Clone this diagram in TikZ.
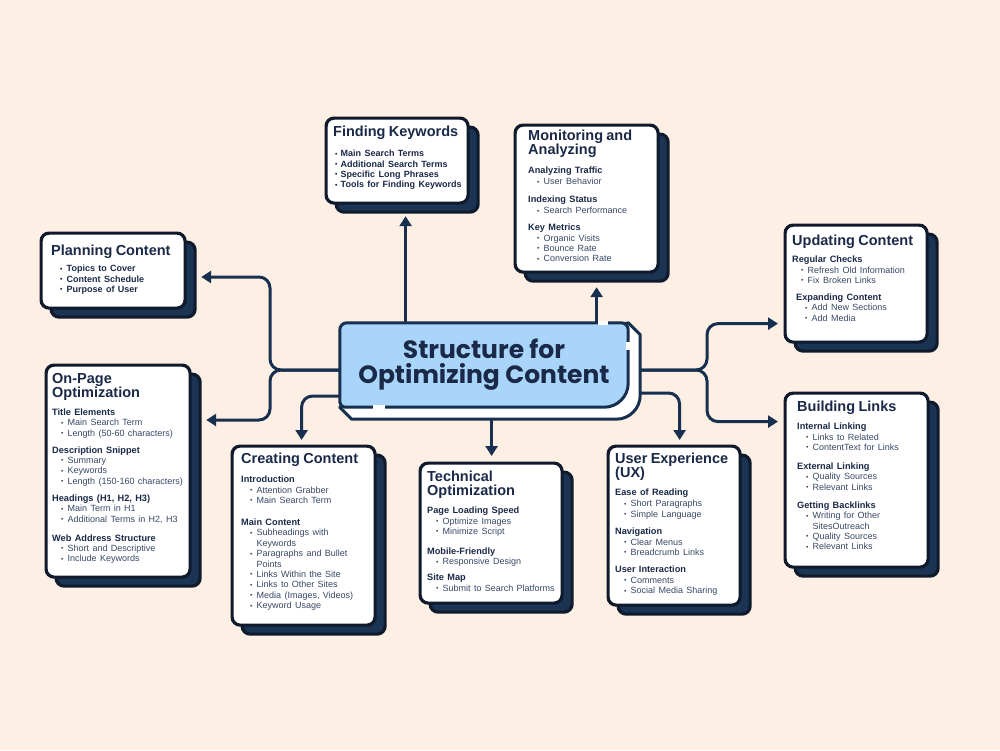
\documentclass[tikz,border=0pt]{standalone}
\usepackage{fontspec}
\setmainfont{Liberation Sans}
\newfontfamily\corefont{Poppins}
\usetikzlibrary{arrows.meta,shadows}
\pgfdeclarelayer{bglayer}
\pgfdeclarelayer{wirelayer}
\pgfdeclarelayer{corelayer}
\pgfsetlayers{bglayer,wirelayer,corelayer,main}

\definecolor{paper}{HTML}{FDEFE3}
\definecolor{ink}{HTML}{1A2947}
\definecolor{inksoft}{HTML}{384866}
\definecolor{wire}{HTML}{17304F}
\definecolor{edge}{HTML}{0F1B2D}
\definecolor{shade}{HTML}{1C3454}
\definecolor{corefill}{HTML}{A9D5FB}

\newlength{\bulin}\setlength{\bulin}{9pt}
\newlength{\txtin}\setlength{\txtin}{15.5pt}
\newcommand{\itemweight}{}
\newcommand{\dotmark}{\raisebox{0.6pt}{\scalebox{0.75}{\textbullet}}}
\newcommand{\ctitle}[1]{{\noindent\fontsize{14.5}{14}\selectfont\bfseries\color{ink}#1\par}}
\newcommand{\csec}[2][18pt]{{\noindent\fontsize{9.2}{#1}\selectfont\bfseries\color{ink}#2\par}}
\newcommand{\citem}[2][10.4pt]{{\noindent\fontsize{9}{#1}\selectfont\color{inksoft}\itemweight
  \hangindent=\txtin\hangafter=1\hbox to \txtin{\hspace{\bulin}\dotmark\hss}#2\par}}

\begin{document}
\begin{tikzpicture}[x=1pt,y=-1pt,
  card/.style={draw=edge, line width=3.2pt, fill=white, rounded corners=8pt,
    anchor=north west, inner sep=0pt,
    general shadow={fill=shade, draw=edge, line width=3.2pt, shadow xshift=10pt, shadow yshift=-9pt}},
  cardtext/.style={anchor=north west, inner sep=0pt, text width=150pt, align=left},
  link/.style={draw=wire, line width=3pt, rounded corners=11pt, -{Triangle[width=12pt,length=10pt]}},
  coretext/.style={minimum width=288pt, minimum height=84pt, inner sep=0pt, align=center,
    font=\corefont\bfseries\fontsize{25}{25}\selectfont, text=ink}]

\begin{pgfonlayer}{bglayer}
  \fill[paper] (0,0) rectangle (1000,750);
\end{pgfonlayer}
\useasboundingbox (0,0) rectangle (1000,750);

\node[coretext] (core) at (484,365) {Structure for\\Optimizing Content};
\begin{pgfonlayer}{corelayer}
  \filldraw[fill=white, draw=wire, line width=3pt, line join=round]
    (core.north east) -- ++(12,12) [rounded corners=24pt] -- ([shift={(12,12)}]core.south east)
    [sharp corners] -- ([shift={(12,12)}]core.south west) -- (core.south west) -- cycle;
  \filldraw[fill=corefill, draw=wire, line width=3pt]
    (core.south west) [rounded corners=7pt] -- (core.north west) -- (core.north east)
    [rounded corners=24pt] -- (core.south east) [rounded corners=5pt] -- cycle;
  \draw[white, line width=3.6pt] ([shift={(-30,0)}]core.north east) -- ([shift={(-20,0)}]core.north east);
  \draw[white, line width=3.6pt] ([shift={(0,19)}]core.north east) -- ([shift={(0,27)}]core.north east);
  \draw[white, line width=3.6pt] ([shift={(33,0)}]core.south west) -- ([shift={(45,0)}]core.south west);
\end{pgfonlayer}

\node[card, minimum width=144pt, minimum height=75pt] (plan) at (39.5,231.5) {};
\node[card, minimum width=144pt, minimum height=212pt] (page) at (44.5,363.5) {};
\node[card, minimum width=142pt, minimum height=85pt] (keys) at (324.5,116.5) {};
\node[card, minimum width=143pt, minimum height=147pt] (mon) at (513.5,123.5) {};
\node[card, minimum width=142pt, minimum height=117pt] (upd) at (783.5,223.5) {};
\node[card, minimum width=143pt, minimum height=174pt] (links) at (783.5,391.5) {};
\node[card, minimum width=143pt, minimum height=179pt] (create) at (230.5,444.5) {};
\node[card, minimum width=142pt, minimum height=140pt] (tech) at (418.5,461.5) {};
\node[card, minimum width=132pt, minimum height=159pt] (ux) at (606.5,444.5) {};

\node[cardtext] (plantext) at ([shift={(11.5,13.5)}]plan.north west)
  {\renewcommand{\itemweight}{\bfseries\color{ink}}%
   \ctitle{Planning Content}\citem[16pt]{Topics to Cover}\citem{Content Schedule}\citem{Purpose of User}};
\node[cardtext] (pagetext) at ([shift={(7.5,9.5)}]page.north west)
  {\ctitle{On-Page\newline Optimization}
   \csec{Title Elements}\citem{Main Search Term}\citem{Length (50-60 characters)}
   \csec[17pt]{Description Snippet}\citem{Summary}\citem{Keywords}\citem{Length (150-160 characters)}
   \csec[17pt]{Headings (H1, H2, H3)}\citem{Main Term in H1}\citem{Additional Terms in H2, H3}
   \csec[19pt]{Web Address Structure}\citem{Short and Descriptive}\citem{Include Keywords}};
\node[cardtext] (keystext) at ([shift={(8.5,9.5)}]keys.north west)
  {\renewcommand{\itemweight}{\bfseries\color{ink}}\setlength{\bulin}{2pt}\setlength{\txtin}{7.5pt}%
   \ctitle{Finding Keywords}\citem[20pt]{Main Search Terms}\citem{Additional Search Terms}
   \citem{Specific Long Phrases}\citem{Tools for Finding Keywords}};
\node[cardtext] (montext) at ([shift={(14.5,6.5)}]mon.north west)
  {\ctitle{Monitoring and\newline Analyzing}
   \csec[19pt]{Analyzing Traffic}\citem[11pt]{User Behavior}
   \csec{Indexing Status}\citem[11pt]{Search Performance}
   \csec[17pt]{Key Metrics}\citem{Organic Visits}\citem{Bounce Rate}\citem{Conversion Rate}};
\node[cardtext] (updtext) at ([shift={(8.5,11.5)}]upd.north west)
  {\ctitle{Updating Content}
   \csec[17pt]{Regular Checks}\citem{Refresh Old Information}\citem{Fix Broken Links}
   {\leftskip=4pt \csec[17pt]{Expanding Content}\citem{Add New Sections}\citem{Add Media}}};
\node[cardtext] (linkstext) at ([shift={(13.5,9.5)}]links.north west)
  {\ctitle{Building Links}
   \csec{Internal Linking}\citem{Links to Related}\citem{ContentText for Links}
   \csec[19pt]{External Linking}\citem{Quality Sources}\citem{Relevant Links}
   \csec{Getting Backlinks}\citem{Writing for Other\newline SitesOutreach}\citem{Quality Sources}\citem{Relevant Links}};
\node[cardtext] (createtext) at ([shift={(10.5,8.5)}]create.north west)
  {\ctitle{Creating Content}
   \csec[19pt]{Introduction}\citem{Attention Grabber}\citem{Main Search Term}
   \csec[22pt]{Main Content}\citem{Subheadings with\newline Keywords}\citem{Paragraphs and Bullet\newline Points}
   \citem{Links Within the Site}\citem{Links to Other Sites}\citem{Media (Images, Videos)}\citem{Keyword Usage}};
\node[cardtext] (techtext) at ([shift={(8.5,9.5)}]tech.north west)
  {\ctitle{Technical\newline Optimization}
   \csec{Page Loading Speed}\citem{Optimize Images}\citem{Minimize Script}
   \csec[20pt]{Mobile-Friendly}\citem{Responsive Design}
   \csec[16pt]{Site Map}\citem{Submit to Search Platforms}};
\node[cardtext] (uxtext) at ([shift={(8.5,8.5)}]ux.north west)
  {\ctitle{User Experience\newline (UX)}
   \csec{Ease of Reading}\citem[11pt]{Short Paragraphs}\citem{Simple Language}
   \csec[17pt]{Navigation}\citem[11pt]{Clear Menus}\citem{Breadcrumb Links}
   \csec[17pt]{User Interaction}\citem[11pt]{Comments}\citem{Social Media Sharing}};

\coordinate (lj) at (270,370);
\coordinate (rj) at (707,370);
\coordinate (planIn) at ([shift={(14.5,45.5)}]plan.north east);
\coordinate (pageIn) at ([shift={(14.5,56.5)}]page.north east);
\coordinate (keysIn) at ([shift={(8.5,11.5)}]keys.south);
\coordinate (monIn) at ([shift={(10,13.5)}]mon.south);
\coordinate (updIn) at ([shift={(-5.5,40)}]upd.west);
\coordinate (linksIn) at ([shift={(-5.5,-58.5)}]links.west);
\coordinate (createIn) at ([shift={(-2,-4.5)}]create.north);
\coordinate (techIn) at ([shift={(0.5,-5.5)}]tech.north);
\coordinate (uxIn) at ([shift={(5.5,-4.5)}]ux.north);

\begin{pgfonlayer}{wirelayer}
  \draw[link] (core.west |- lj) -- (lj) |- (planIn);
  \draw[link] (core.west |- lj) -- (lj) |- (pageIn);
  \draw[link] (core.north -| keysIn) -- (keysIn);
  \draw[link] (core.north -| monIn) -- (monIn);
  \draw[link] (core.east |- rj) -- (rj) |- (updIn);
  \draw[link] (core.east |- rj) -- (rj) |- (linksIn);
  \draw[link] ([shift={(0,31)}]core.west) -| (createIn);
  \draw[link] (core.south -| techIn) -- (techIn);
  \draw[link] ([shift={(0,28)}]core.east) -| (uxIn);
\end{pgfonlayer}
\end{tikzpicture}
\end{document}
